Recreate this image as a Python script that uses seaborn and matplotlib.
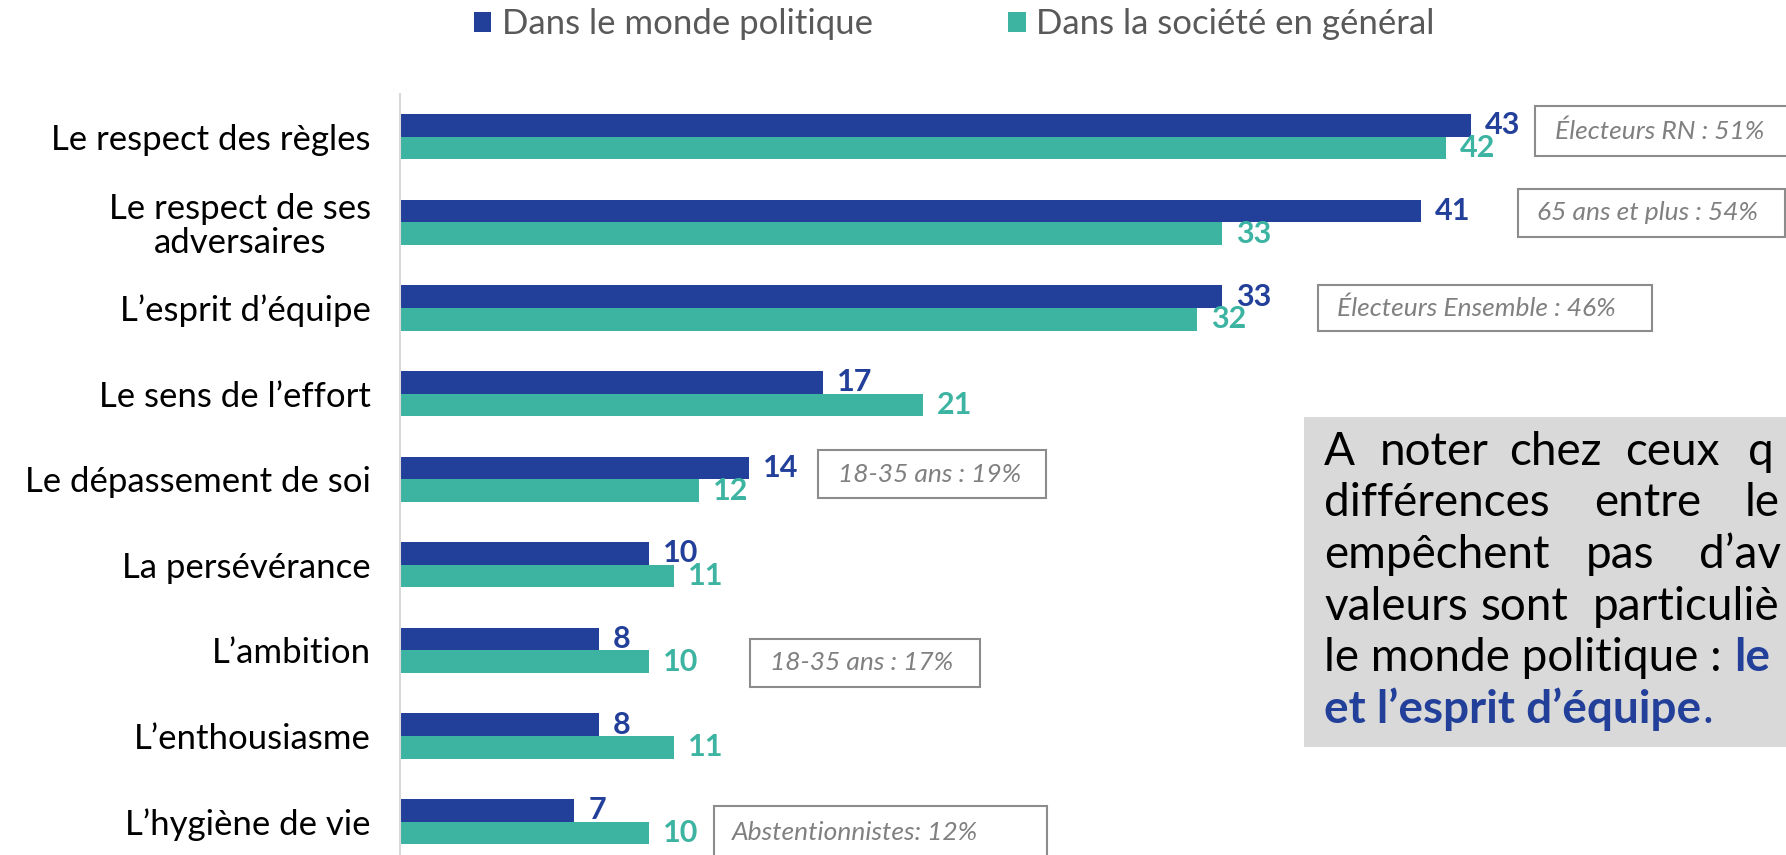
import pandas as pd; import numpy as np; import matplotlib.pyplot as plt; import seaborn as sns
from matplotlib.patches import Rectangle
from matplotlib.text import Annotation

categories = ["Le respect des règles", "Le respect de ses\nadversaires", "L\u2019esprit d\u2019équipe",
              "Le sens de l\u2019effort", "Le dépassement de soi", "La persévérance",
              "L\u2019ambition", "L\u2019enthousiasme", "L\u2019hygiène de vie"]
series = ["Dans le monde politique", "Dans la société en général"]
politique = [43, 41, 33, 17, 14, 10, 8, 8, 7]
societe = [42, 33, 32, 21, 12, 11, 10, 11, 10]
notes = ["Électeurs RN : 51%", "65 ans et plus : 54%", "Électeurs Ensemble : 46%",
         "18-35 ans : 19%", "18-35 ans : 17%", "Abstentionnistes: 12%"]

BLUE = '#22409a'; TEAL = '#3db4a2'; GREY = '#808080'
W, H = 1786, 855

def fx(px): return px / W
def fy(py): return 1 - py / H

df = pd.DataFrame({'categorie': categories * 2,
                   'serie': [series[0]] * 9 + [series[1]] * 9,
                   'valeur': politique + societe})

sns.set_style('white')
plt.rcParams['font.family'] = ['Lato', 'DejaVu Sans']

fig = plt.figure(figsize=(W / 100, H / 100), dpi=100)
ax = fig.add_axes([fx(400), 0, 1 - fx(400), fy(94)])
sns.barplot(ax=ax, data=df, x='valeur', y='categorie', hue='serie', orient='h',
            palette=[BLUE, TEAL], saturation=1, width=0.53, linewidth=0, legend=True)
ax.set_xlim(0, 1386 / 24.9); ax.set_ylim(8.39, -0.5)
for cont, col in zip(ax.containers, [BLUE, TEAL]):
    ax.bar_label(cont, padding=10, color=col, fontsize=22, fontweight='bold')

sns.despine(ax=ax, left=False, bottom=True)
ax.spines['left'].set_color('#d9d9d9'); ax.spines['left'].set_linewidth(1.5)
ax.set_xticks([]); ax.set_xlabel(''); ax.set_ylabel('')
ax.tick_params(axis='y', length=0, pad=21, labelsize=25, labelcolor='black')
for t in ax.get_yticklabels():
    t.set_multialignment('center'); t.set_linespacing(1.05)

h, l = ax.get_legend_handles_labels()
ax.legend(h, l, ncol=2, loc='center left', bbox_to_anchor=(fx(474), fy(24)),
          bbox_transform=fig.transFigure, frameon=False, fontsize=25,
          handlelength=0.5, handleheight=0.5, handletextpad=0.3,
          columnspacing=3.9, borderpad=0, borderaxespad=0, labelcolor='#595959')

# encadrés gris
boxes = [(1535, 106, 300, 50), (1518, 189, 267, 48), (1318, 285, 334, 46),
         (818, 450, 228, 48), (750, 639, 230, 48), (714, 806, 333, 70)]
txt_pos = [(1555, 131), (1537, 213), (1337, 308), (838, 474), (770, 663), (732, 832)]
for (bx, by, bw, bh), (tx, ty), s in zip(boxes, txt_pos, notes):
    fig.add_artist(Rectangle((fx(bx), fy(by + bh)), bw / W, bh / H, transform=fig.transFigure,
                             facecolor='white', edgecolor='#8c8c8c', linewidth=1.5))
    fig.text(fx(tx), fy(ty), s, color=GREY, fontsize=19, style='italic', va='center', ha='left')

# encadré de commentaire
fig.add_artist(Rectangle((fx(1304), fy(747)), 600 / W, (747 - 417) / H,
                         transform=fig.transFigure, facecolor='#d9d9d9', edgecolor='none'))
lines = [[(1324, "A"), (1380, "noter"), (1509, "chez"), (1625, "ceux"), (1748, "q")],
         [(1324, "différences"), (1594, "entre"), (1745, "le")],
         [(1324, "empêchent"), (1586, "pas"), (1699, "d\u2019av")],
         [(1324, "valeurs"), (1480, "sont"), (1593, "particuliè")]]
for i, words in enumerate(lines):
    for x, w in words:
        fig.text(fx(x), fy(452 + 51.5 * i), w, fontsize=33, color='black', va='center', ha='left')
t5 = fig.text(fx(1324), fy(658), "le monde politique :", fontsize=33, color='black', va='center')
fig.add_artist(Annotation("le", xy=(1, 0), xycoords=t5, xytext=(9, 0), textcoords='offset points',
                          fontsize=33, color=BLUE, fontweight='bold', va='bottom',
                          annotation_clip=False, zorder=4))
t6 = fig.text(fx(1324), fy(709), "et l\u2019esprit d\u2019équipe", fontsize=33, color=BLUE,
              fontweight='bold', va='center')
fig.add_artist(Annotation(".", xy=(1, 0), xycoords=t6, xytext=(1, 0), textcoords='offset points',
                          fontsize=33, color=BLUE, va='bottom', annotation_clip=False, zorder=4))

plt.savefig('out.png', dpi=100)
